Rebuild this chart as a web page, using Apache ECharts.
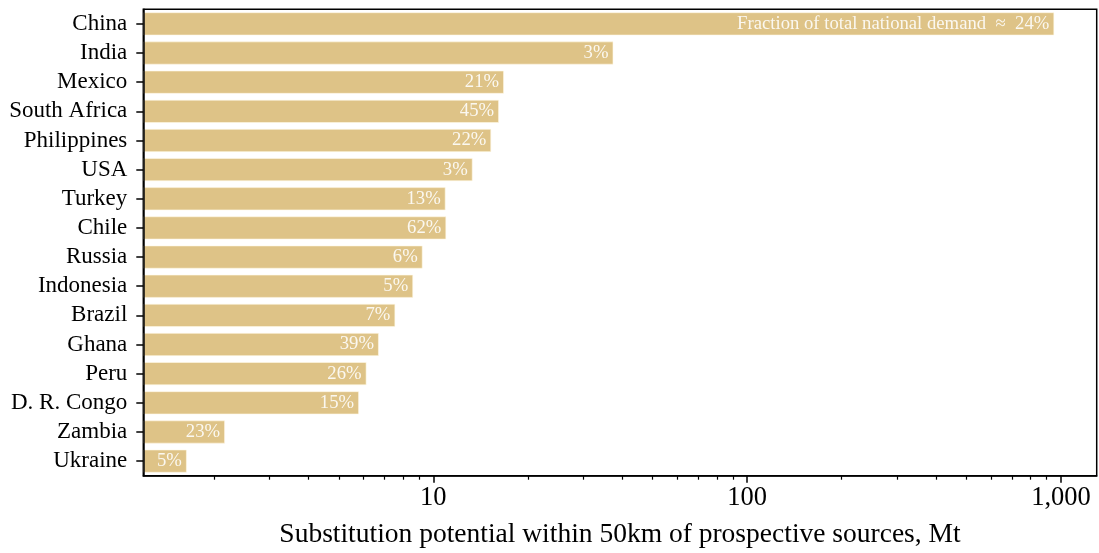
<!DOCTYPE html>
<html>
<head>
<meta charset="utf-8">
<script src="https://cdn.jsdelivr.net/npm/echarts@6/dist/echarts.min.js"></script>
<style>
html,body{margin:0;padding:0;background:#fff;}
#chart{width:1099px;height:553px;}
</style>
</head>
<body>
<div id="chart"></div>
<script>
const categories = ['China','India','Mexico','South Africa','Philippines','USA','Turkey','Chile','Russia','Indonesia','Brazil','Ghana','Peru','D. R. Congo','Zambia','Ukraine'];
const potentialMt = [952, 37.5, 16.8, 16.2, 15.3, 13.35, 10.95, 11.0, 9.25, 8.63, 7.57, 6.71, 6.13, 5.80, 2.17, 1.64];
const demandFraction = ['24%','3%','21%','45%','22%','3%','13%','62%','6%','5%','7%','39%','26%','15%','23%','5%'];
const majorTicks = [10, 100, 1000];
const minorTicks = [2,3,4,5,6,7,8,9,20,30,40,50,60,70,80,90,200,300,400,500,600,700,800,900];
const xName = 'Substitution potential within 50km of prospective sources, Mt';
const firstLabelPrefix = 'Fraction of total national demand  \u2248  ';

const FONT = "'Liberation Serif', 'Times New Roman', serif";
const xMin = 1.191, xMax = 1299;

const chart = echarts.init(document.getElementById('chart'), null, {renderer: 'canvas'});
chart.setOption({
  animation: false,
  grid: {left: 143.3, right: 2.3, top: 9.3, bottom: 77.3, show: true, borderColor: '#000', borderWidth: 1.5, backgroundColor: 'transparent', containLabel: false, outerBoundsMode: 'none'},
  xAxis: [{
    type: 'log', logBase: 10, min: xMin, max: xMax, startValue: xMin,
    position: 'bottom', z: 3,
    axisLine: {show: true, lineStyle: {color: '#000', width: 1.5}},
    axisTick: {show: true, customValues: majorTicks, length: 7, lineStyle: {color: '#000', width: 1.5}},
    axisLabel: {customValues: majorTicks, color: '#000', fontFamily: FONT, fontSize: 26.5, margin: 9,
      formatter: v => Number(v).toLocaleString('en-US')},
    splitLine: {show: false},
    minorTick: {show: false}, minorSplitLine: {show: false},
    name: xName, nameLocation: 'middle', nameGap: 45,
    nameTextStyle: {color: '#000', fontFamily: FONT, fontSize: 27.5}
  }, {
    type: 'log', logBase: 10, min: xMin, max: xMax, position: 'bottom', gridIndex: 0, z: 3,
    axisLine: {show: false},
    axisTick: {show: true, customValues: minorTicks, length: 4, lineStyle: {color: '#000', width: 1.2}},
    axisLabel: {show: false},
    splitLine: {show: false}
  }],
  yAxis: {
    type: 'category', data: categories, inverse: true, z: 3,
    axisLine: {show: true, lineStyle: {color: '#000', width: 1.5}},
    axisTick: {show: true, alignWithLabel: true, interval: 0, length: 7, lineStyle: {color: '#000', width: 1.5}},
    axisLabel: {interval: 0, hideOverlap: false, color: '#000', fontFamily: FONT, fontSize: 23, margin: 16},
    splitLine: {show: false}
  },
  series: [{
    type: 'bar', xAxisIndex: 0, data: potentialMt, barCategoryGap: '20%', clip: true,
    itemStyle: {color: '#dec387', borderColor: 'rgba(255,248,230,0.6)', borderWidth: 1},
    label: {show: true, position: 'insideRight', distance: 5, color: 'rgba(255,255,255,0.88)', fontFamily: FONT, fontSize: 18.7,
      formatter: p => (p.dataIndex === 0 ? firstLabelPrefix : '') + demandFraction[p.dataIndex]}
  }]
});
</script>
</body>
</html>
